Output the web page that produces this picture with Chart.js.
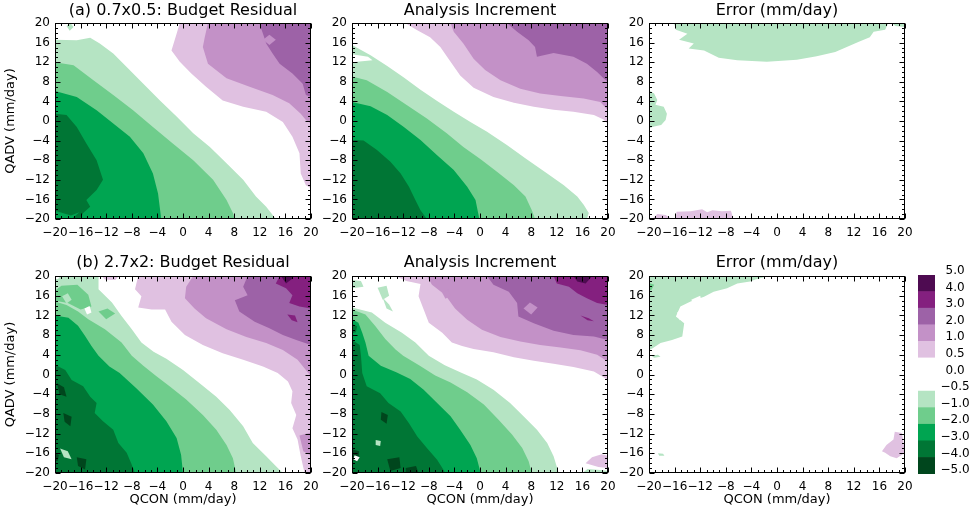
<!DOCTYPE html>
<html lang="en">
<head>
<meta charset="UTF-8">
<title>Budget residual vs analysis increment</title>
<script src="https://cdn.jsdelivr.net/npm/chart.js"></script>
<style>
  html, body { margin: 0; padding: 0; background: #fff; }
  #wrap { position: relative; width: 970px; height: 514px; overflow: hidden; }
  #wrap canvas { position: absolute; }
</style>
</head>
<body>
<div id="wrap"></div>
<script>
// ---- contour regions, [QCON, QADV] vertices ----
// (a) 0.7x0.5 budget residual
const aRes_m05 = [[-20,16.6],[-16.6,16.5],[-14.5,17.0],[-13.0,15.8],[-10.9,13.8],[-8.8,11.0],[-6.2,7.6],[-3.6,4.2],[-1.0,0.9],[1.6,-2.5],[4.2,-5.3],[6.8,-8.6],[9.4,-12.0],[11.4,-15.4],[13.0,-17.5],[14.5,-20],[-20,-20]];
const aRes_m05s = [[-18.2,19.4],[-17.6,20],[-17.1,19.2],[-17.7,18.4]];
const aRes_m1 = [[-20,12.0],[-17.1,11.4],[-14.0,8.3],[-10.9,5.3],[-7.8,2.2],[-4.7,-1.2],[-1.6,-4.6],[1.6,-8.0],[4.7,-12.0],[6.8,-16.1],[7.8,-18.8],[8.1,-20],[-20,-20]];
const aRes_m2 = [[-20,6.1],[-16.6,4.9],[-13.5,2.2],[-10.9,-0.5],[-8.3,-3.2],[-6.2,-6.6],[-4.7,-10.7],[-3.9,-14.8],[-3.4,-20],[-20,-20]];
const aRes_m3 = [[-20,1.5],[-18.2,1.2],[-16.6,-1.2],[-15.1,-4.6],[-13.5,-8.0],[-12.5,-12.0],[-13.5,-14.1],[-15.1,-16.1],[-14.5,-17.5],[-15.6,-18.8],[-16.1,-20],[-20,-20]];
const aRes_m2s = [[-20,-18.3],[-17.5,-19.3],[-16.2,-18.6],[-17.3,-19.9],[-20,-19.8]];
const aRes_p05 = [[-0.5,20],[-1.0,17.8],[-1.8,14.4],[-0.5,12.1],[1.3,9.7],[3.6,7.0],[6.2,4.2],[9.4,2.9],[13.0,1.9],[15.6,-0.2],[17.1,-3.2],[18.2,-6.6],[18.4,-10.7],[19.2,-13.1],[20,-13.7],[20,20]];
const aRes_p1 = [[3.9,20],[3.4,17.1],[3.1,15.1],[3.9,11.7],[6.8,8.7],[10.4,7.0],[14.0,5.3],[16.6,3.6],[18.4,1.5],[19.2,0.2],[20,-0.5],[20,20]];
const aRes_p2 = [[11.9,20],[12.5,17.8],[13.0,15.8],[14.0,13.8],[15.1,11.7],[17.1,9.7],[18.7,7.6],[19.2,5.3],[20,4.9],[20,20]];
const aRes_p1s = [[12.5,16.6],[13.5,17.6],[14.5,16.6],[13.5,15.5]];

// (a) analysis increment
const aInc_m05 = [[-20,15.5],[-17.1,13.4],[-14.5,11.2],[-11.9,8.9],[-9.3,6.4],[-6.7,4.1],[-4.1,1.9],[-1.5,-0.2],[1.1,-2.2],[4.2,-4.9],[7.3,-7.8],[10.5,-10.7],[13.1,-13.1],[15.2,-15.4],[16.2,-17.1],[17.0,-18.8],[16.7,-20],[-20,-20]];
const aInc_w = [[-20,13.6],[-17.5,13.1],[-16.8,12.4],[-20,12.0]];
const aInc_m1 = [[-20,9.1],[-17.7,8.3],[-14.5,5.9],[-11.4,3.2],[-8.3,0.5],[-5.2,-2.5],[-2.6,-5.3],[0.1,-7.8],[2.7,-10.4],[5.3,-13.1],[7.1,-15.4],[8.1,-18.2],[8.6,-20],[-20,-20]];
const aInc_m2 = [[-20,3.9],[-17.1,3.0],[-14.5,1.2],[-11.9,-1.2],[-9.3,-3.9],[-6.7,-7.0],[-4.1,-10.0],[-2.0,-13.4],[-0.7,-16.1],[-0.1,-20],[-20,-20]];
const aInc_m3 = [[-20,-3.9],[-18.2,-4.0],[-16.1,-5.9],[-14.0,-8.3],[-12.4,-10.7],[-11.1,-13.4],[-10.1,-16.1],[-9.3,-18.2],[-8.3,-20],[-20,-20]];
const aInc_p05 = [[-11.7,20],[-9.8,18.5],[-7.8,17.1],[-6.2,15.1],[-4.6,12.1],[-3.1,9.3],[-1.0,6.8],[2.1,4.9],[5.3,3.7],[8.4,2.9],[11.5,2.3],[14.6,1.9],[17.8,1.2],[19.3,0.3],[20,-0.6],[20,20]];
const aInc_p1 = [[-4.6,20],[-4.1,18.2],[-2.6,15.8],[-1.0,12.7],[0.8,10.4],[3.2,8.3],[6.3,6.6],[9.4,5.6],[12.6,5.1],[16.2,4.6],[18.8,3.9],[20,2.2],[20,20]];
const aInc_p2 = [[4.2,20],[5.8,18.2],[7.6,16.5],[8.6,15.1],[8.9,13.1],[11.5,13.9],[14.6,13.1],[16.7,11.7],[18.3,10.0],[19.3,8.7],[20,8.0],[20,20]];

// (a) error
const aErr_m05a = [[-16.1,20],[-15.8,18.6],[-14.0,17.8],[-15.3,16.6],[-13.0,15.8],[-13.8,14.8],[-11.4,14.4],[-9.1,12.9],[-6.2,12.4],[-1.6,12.1],[3.1,12.5],[6.2,13.2],[9.1,14.1],[10.9,15.1],[12.7,16.1],[14.5,17.1],[15.1,18.2],[16.9,18.6],[17.4,20]];
const aErr_m05b = [[-20,6.3],[-19.2,5.6],[-18.7,4.3],[-19.0,3.3],[-17.7,2.9],[-17.2,1.5],[-17.4,0.2],[-18.1,-0.8],[-19.2,-1.1],[-20,-1.5]];
const aErr_m05c = [[17.9,20],[18.5,19.4],[20,19.2],[20,20]];
const aErr_p05a = [[-19.5,-20],[-18.7,-19.0],[-17.4,-19.2],[-16.4,-20]];
const aErr_p05b = [[-15.8,-20],[-15.7,-18.5],[-13.5,-18.4],[-11.7,-18.0],[-10.9,-18.6],[-10.1,-18.2],[-8.6,-18.4],[-7.2,-18.3],[-6.8,-20]];

// (b) 2.7x2 budget residual
const bRes_m05 = [[-20,20],[-13.2,20],[-13.2,17.3],[-11.1,14.6],[-9.6,11.9],[-8.0,9.2],[-6.5,6.5],[-4.6,4.6],[-2.6,3.2],[0.0,0.9],[2.6,-1.8],[5.2,-4.5],[7.3,-7.2],[9.4,-10.5],[10.9,-13.9],[13.0,-16.6],[14.5,-18.6],[15.6,-20],[-20,-20]];
const bRes_w1 = [[-20,20],[-19.2,20],[-19.5,19.4],[-20,19.4]];
const bRes_m1a = [[-19.0,18.0],[-16.5,18.2],[-14.8,16.2],[-14.3,13.8],[-16.0,13.2],[-18.0,14.5],[-20,15.0],[-20,17.0]];
const bRes_m05d = [[-18.9,15.9],[-18.0,16.5],[-17.4,15.2],[-18.2,14.4]];
const bRes_w2 = [[-15.4,13.4],[-14.6,13.9],[-14.3,12.6],[-15.0,12.2]];
const bRes_m1b = [[-13.2,12.8],[-11.8,13.4],[-10.6,12.4],[-12.0,11.2]];
const bRes_m1 = [[-20,14.8],[-18.2,14.1],[-16.4,12.8],[-14.8,11.2],[-12.2,9.2],[-9.6,6.5],[-8.0,3.8],[-6.2,1.8],[-4.2,-0.3],[-2.1,-2.4],[0.5,-5.1],[3.1,-8.2],[5.2,-11.2],[6.8,-14.3],[7.8,-17.0],[8.3,-20],[-20,-20]];
const bRes_m2 = [[-20,12.0],[-17.9,11.5],[-16.4,9.9],[-15.3,7.8],[-14.3,5.8],[-13.2,3.8],[-11.5,1.6],[-9.9,0.3],[-7.3,-2.8],[-4.7,-6.1],[-2.6,-9.5],[-1.0,-12.9],[-0.3,-16.3],[0.0,-20],[-20,-20]];
const bRes_m3 = [[-20,2.0],[-18.4,0.9],[-17.4,-1.1],[-15.6,-2.4],[-14.5,-4.5],[-13.5,-5.8],[-13.8,-7.8],[-12.5,-9.5],[-10.9,-11.2],[-10.1,-13.9],[-8.8,-15.9],[-8.1,-18.0],[-7.5,-20],[-20,-20]];
const bRes_m4a = [[-19.7,-1.8],[-18.6,-2.6],[-18.2,-4.5],[-19.3,-4.0]];
const bRes_m4b = [[-18.7,-7.8],[-17.4,-8.6],[-17.6,-10.5],[-18.5,-9.6]];
const bRes_m4c = [[-16.6,-16.8],[-15.1,-17.2],[-15.3,-19.3],[-16.4,-18.6]];
const bRes_m4d = [[-20,-15.8],[-19.4,-16.4],[-19.6,-17.6],[-20,-17.4]];
const bRes_m05s = [[-19.2,-15.0],[-18.0,-15.6],[-17.4,-17.2],[-18.6,-16.8]];
const bRes_p05 = [[-7.0,20],[-7.5,17.3],[-6.5,15.9],[-7.0,13.6],[-4.9,13.2],[-2.8,13.2],[-1.8,10.7],[0.3,8.0],[3.1,6.0],[6.2,4.3],[9.4,3.0],[12.5,1.6],[14.8,0.3],[16.4,-1.4],[17.1,-3.4],[16.9,-5.8],[17.7,-8.2],[17.1,-10.9],[17.9,-13.2],[18.4,-16.6],[19.0,-20],[20,-20],[20,20]];
const bRes_p05t = [[-12.7,20],[-10.0,20],[-10.6,19.2],[-12.2,19.3]];
const bRes_p1s = [[18.2,-12.4],[20,-11.8],[20,-16.5],[18.8,-15.6]];
const bRes_p1 = [[1.6,20],[0.5,17.8],[0.3,15.5],[1.8,13.4],[3.6,11.4],[6.8,9.2],[9.9,7.6],[13.0,6.4],[15.6,5.0],[17.9,3.0],[19.2,0.9],[20,-0.4],[20,20]];
const bRes_p2 = [[10.1,20],[9.4,17.8],[10.1,16.1],[8.1,15.1],[8.8,12.8],[11.2,10.7],[13.5,9.4],[15.6,8.0],[17.7,7.0],[20,6.0],[20,20]];
const bRes_p3 = [[15.1,20],[14.5,18.5],[16.1,17.5],[17.1,16.1],[16.6,14.5],[18.2,13.8],[20,13.4],[20,20]];
const bRes_p3b = [[16.3,12.2],[17.5,12.0],[17.9,10.6],[17.0,11.0]];
const bRes_p4 = [[15.3,20],[16.1,18.5],[17.1,19.5],[16.9,20]];

// (b) analysis increment
const bInc_m05 = [[-20,13.6],[-16.9,12.6],[-14.8,10.5],[-12.2,8.5],[-10.1,6.5],[-8.0,3.8],[-5.5,1.9],[-3.0,0.4],[-0.5,-1.0],[2.1,-3.1],[4.7,-5.8],[6.8,-8.5],[8.9,-11.2],[10.5,-13.9],[11.5,-16.6],[12.3,-20],[-20,-20]];
const bInc_m05t = [[-20,19.2],[-18.6,19.0],[-18.2,17.8],[-20,17.5]];
const bInc_m05u = [[-16.0,17.6],[-14.6,18.0],[-14.2,16.0],[-15.2,15.2]];
const bInc_m05v = [[-15.2,15.6],[-14.2,14.2],[-13.6,12.8],[-14.6,13.4]];
const bInc_m1 = [[-20,13.2],[-17.9,12.2],[-16.4,9.9],[-14.8,7.2],[-13.2,5.1],[-12.0,3.8],[-9.4,1.8],[-7.0,-0.2],[-4.6,-1.6],[-2.0,-3.6],[0.6,-6.1],[2.9,-9.2],[5.0,-12.2],[6.6,-14.9],[7.6,-17.6],[8.1,-20],[-20,-20]];
const bInc_m2 = [[-20,11.2],[-19.0,10.5],[-18.4,8.5],[-17.9,6.5],[-17.4,3.8],[-15.5,1.8],[-13.0,0.4],[-10.9,-0.9],[-8.8,-3.1],[-6.7,-5.8],[-4.6,-8.5],[-3.1,-11.2],[-1.5,-14.3],[-0.5,-17.0],[0.1,-20],[-20,-20]];
const bInc_m3 = [[-20,7.0],[-18.8,6.0],[-18.6,3.8],[-18.4,0.3],[-17.7,-2.4],[-15.6,-3.8],[-14.3,-5.8],[-12.4,-7.5],[-11.1,-9.9],[-9.8,-12.6],[-8.3,-14.9],[-6.7,-17.3],[-5.4,-20],[-20,-20]];
const bInc_m3s = [[-20,10.3],[-19.2,9.8],[-19.4,8.6],[-20,8.4]];
const bInc_m4a = [[-20,-15.2],[-18.9,-15.6],[-19.0,-17.3],[-20,-17.5]];
const bInc_m4b = [[-15.4,-7.6],[-14.4,-8.2],[-14.6,-10.0],[-15.5,-9.2]];
const bInc_m4c = [[-14.5,-17.2],[-12.6,-16.8],[-12.4,-19.0],[-14.0,-19.6]];
const bInc_m4d = [[-11.6,-19.0],[-10.0,-18.6],[-9.6,-20],[-11.6,-20]];
const bInc_w2 = [[-19.6,-16.4],[-18.8,-16.8],[-19.2,-17.6],[-19.8,-17.2]];
const bInc_m05s = [[-16.3,-13.3],[-15.5,-13.5],[-15.6,-14.5],[-16.3,-14.3]];
const bInc_m05b = [[16.0,-20],[16.8,-19.2],[18.8,-19.4],[20,-19.6],[20,-20]];
const bInc_p05 = [[-13.2,20],[-11.5,19.0],[-9.3,18.4],[-9.6,15.9],[-8.8,13.2],[-8.0,10.5],[-5.9,8.5],[-4.4,6.5],[-2.8,5.8],[-1.0,5.2],[2.1,4.5],[5.3,3.5],[8.4,2.8],[11.5,2.2],[14.6,1.5],[17.8,0.6],[19.1,-0.4],[20,-1.1],[20,20]];
const bInc_p05b = [[16.5,-18.0],[17.5,-16.8],[19.0,-16.2],[20,-16.5],[20,-19.0],[18.5,-18.8]];
const bInc_p1 = [[-8.3,20],[-7.5,18.2],[-5.4,16.1],[-3.9,13.4],[-2.0,11.1],[0.3,9.1],[3.2,7.6],[6.3,6.7],[9.4,6.0],[12.6,5.5],[15.7,4.9],[18.3,4.0],[20,2.6],[20,20]];
const bInc_p1t = [[-5.9,16.6],[-5.0,17.2],[-4.6,16.0],[-5.4,15.4]];
const bInc_p2 = [[1.1,20],[2.1,18.2],[4.5,16.8],[5.8,14.5],[6.0,11.8],[8.4,10.4],[11.5,8.9],[14.6,8.0],[17.8,7.7],[20,7.0],[20,20]];
const bInc_p1s = [[6.8,13.4],[7.8,14.6],[9.0,13.6],[8.0,12.2]];
const bInc_p3 = [[11.5,20],[12.0,18.5],[13.9,17.8],[15.2,16.5],[16.7,15.5],[18.3,14.5],[20,14.1],[20,20]];
const bInc_p3b = [[15.7,12.0],[17.0,11.4],[17.8,10.8],[16.8,11.0]];
const bInc_p4 = [[14.6,20],[15.2,18.9],[16.5,18.5],[17.2,19.5],[17.5,20]];

// (b) error
const bErr_m05 = [[-20,20],[-1.3,20],[-3.4,19.3],[-4.2,18.9],[-6.2,18.5],[-7.8,17.5],[-9.9,16.8],[-11.4,15.8],[-13.5,14.8],[-15.1,13.8],[-15.8,11.8],[-14.5,10.4],[-14.8,7.7],[-16.4,7.0],[-18.2,6.4],[-19.5,5.3],[-20,5.0]];
const bErr_w1 = [[-13.4,15.2],[-12.0,16.0],[-11.8,14.8],[-13.0,14.2]];
const bErr_w2 = [[-15.6,12.6],[-14.4,13.4],[-14.2,11.6],[-15.2,11.0]];
const bErr_m1s = [[-20,18.6],[-19.2,18.2],[-19.6,17.2],[-20,17.0]];
const bErr_m05s1 = [[-19.6,3.8],[-18.6,4.0],[-18.2,3.6],[-19.2,3.4]];
const bErr_m05s2 = [[-18.6,-16.0],[-17.8,-16.1],[-17.6,-16.5],[-18.4,-16.5]];
const bErr_p05 = [[16.4,-15.6],[17.1,-14.3],[18.2,-13.2],[18.4,-11.6],[19.5,-11.9],[19.7,-13.2],[20,-15.9],[18.7,-17.0],[17.7,-16.6],[16.9,-15.9]];

// colour bar (bottom to top)
const cbLabels = ['\u22125.0','\u22124.0','\u22123.0','\u22122.0','\u22121.0','\u22120.5','0.0','0.5','1.0','2.0','3.0','4.0','5.0'];
const cbLevels = ['m4','m3','m2','m1','m05','w','w','p05','p1','p2','p3','p4'];

const levelColors = {
  m4: '#00461d', m3: '#007635', m2: '#00a551', m1: '#6fcd8c', m05: '#b5e4c3',
  w: '#ffffff',
  p05: '#e0c1e1', p1: '#c391c7', p2: '#9d62a7', p3: '#84207f', p4: '#4e0b51'
};

// layers are listed bottom (drawn first) to top
const panels = [
  { title: '(a) 0.7x0.5: Budget Residual', col: 0, row: 0, layers: [
      [aRes_m05,'m05'],[aRes_m05s,'m05'],[aRes_m1,'m1'],[aRes_m2,'m2'],[aRes_m3,'m3'],[aRes_m2s,'m2'],
      [aRes_p05,'p05'],[aRes_p1,'p1'],[aRes_p2,'p2'],[aRes_p1s,'p1']] },
  { title: 'Analysis Increment', col: 1, row: 0, layers: [
      [aInc_m05,'m05'],[aInc_w,'w'],[aInc_m1,'m1'],[aInc_m2,'m2'],[aInc_m3,'m3'],
      [aInc_p05,'p05'],[aInc_p1,'p1'],[aInc_p2,'p2']] },
  { title: 'Error (mm/day)', col: 2, row: 0, layers: [
      [aErr_m05a,'m05'],[aErr_m05b,'m05'],[aErr_m05c,'m05'],[aErr_p05a,'p05'],[aErr_p05b,'p05']] },
  { title: '(b) 2.7x2: Budget Residual', col: 0, row: 1, layers: [
      [bRes_m05,'m05'],[bRes_w1,'w'],[bRes_m1a,'m1'],[bRes_m05d,'m05'],[bRes_w2,'w'],[bRes_m1b,'m1'],[bRes_m1,'m1'],
      [bRes_m2,'m2'],[bRes_m3,'m3'],[bRes_m4a,'m4'],[bRes_m4b,'m4'],[bRes_m4c,'m4'],[bRes_m4d,'m4'],[bRes_m05s,'m05'],
      [bRes_p05,'p05'],[bRes_p05t,'p05'],[bRes_p1s,'p1'],[bRes_p1,'p1'],[bRes_p2,'p2'],[bRes_p3,'p3'],[bRes_p3b,'p3'],[bRes_p4,'p4']] },
  { title: 'Analysis Increment', col: 1, row: 1, layers: [
      [bInc_m05,'m05'],[bInc_m05t,'m05'],[bInc_m05u,'m05'],[bInc_m05v,'m05'],[bInc_m1,'m1'],[bInc_m2,'m2'],[bInc_m3,'m3'],[bInc_m3s,'m3'],
      [bInc_m4a,'m4'],[bInc_m4b,'m4'],[bInc_m4c,'m4'],[bInc_m4d,'m4'],[bInc_w2,'w'],[bInc_m05s,'m05'],[bInc_m05b,'m05'],
      [bInc_p05,'p05'],[bInc_p05b,'p05'],[bInc_p1,'p1'],[bInc_p1t,'p1'],[bInc_p2,'p2'],[bInc_p1s,'p1'],[bInc_p3,'p3'],[bInc_p3b,'p3'],[bInc_p4,'p4']] },
  { title: 'Error (mm/day)', col: 2, row: 1, layers: [
      [bErr_m05,'m05'],[bErr_w1,'w'],[bErr_w2,'w'],[bErr_m1s,'m1'],[bErr_m05s1,'m05'],[bErr_m05s2,'m05'],[bErr_p05,'p05']] }
];

// ---- layout (pixels) ----
const colLeft = [55, 352, 649];
const rowTop = [23, 276];
const rowH = [196, 197];
const plotW = 256;
const sideM = 55;      // space either side of each plot
const titleH = 23;
const bottomH = [30, 41];
const titlePad = [{top: 1.4, bottom: 2.4}, {top: 0, bottom: 3.8}];

Chart.defaults.font.family = "'DejaVu Sans', sans-serif";
Chart.defaults.color = '#000';

const fmt = v => (v < 0 ? '\u2212' + Math.abs(v) : String(v));

// box with inward major/minor ticks on all four sides
const framePlugin = {
  id: 'frame',
  afterDatasetsDraw(chart) {
    const { ctx, chartArea: { left, right, top, bottom }, scales: { x, y } } = chart;
    const L = Math.round(left) + 0.5, R = Math.round(right) - 0.5;
    const T = Math.round(top) + 0.5, B = Math.round(bottom) - 0.5;
    ctx.save();
    ctx.strokeStyle = '#000';
    ctx.lineWidth = 1;
    ctx.beginPath();
    for (let v = -20; v <= 20; v++) {
      const len = v % 4 === 0 ? 5 : 2.5;
      const px = Math.round(x.getPixelForValue(v)) + 0.5;
      ctx.moveTo(px, B); ctx.lineTo(px, B - len);
      ctx.moveTo(px, T); ctx.lineTo(px, T + len);
      const py = Math.round(y.getPixelForValue(v)) + 0.5;
      ctx.moveTo(L, py); ctx.lineTo(L + len, py);
      ctx.moveTo(R, py); ctx.lineTo(R - len, py);
    }
    ctx.stroke();
    ctx.strokeRect(L, T, R - L, B - T);
    ctx.restore();
  }
};

const wrap = document.getElementById('wrap');

function addCanvas(left, top, w, h) {
  const cv = document.createElement('canvas');
  cv.width = w; cv.height = h;
  cv.style.left = left + 'px';
  cv.style.top = top + 'px';
  cv.style.width = w + 'px';
  cv.style.height = h + 'px';
  wrap.appendChild(cv);
  return cv;
}

function makePanel(p) {
  const w = plotW + 2 * sideM;
  const h = titleH + rowH[p.row] + bottomH[p.row];
  const cv = addCanvas(colLeft[p.col] - sideM, rowTop[p.row] - titleH, w, h);

  // Chart.js paints dataset 0 last, so reverse to keep the listed stacking
  const datasets = p.layers.map(([pts, lev]) => ({
    data: pts.map(([x, y]) => ({ x, y })),
    showLine: true,
    fill: 'shape',
    backgroundColor: levelColors[lev],
    borderWidth: 0,
    pointRadius: 0,
    tension: 0
  })).reverse();

  new Chart(cv, {
    type: 'scatter',
    data: { datasets },
    options: {
      responsive: false,
      animation: false,
      events: [],
      layout: { padding: 0 },
      plugins: {
        legend: { display: false },
        tooltip: { enabled: false },
        title: {
          display: true,
          text: p.title,
          font: { size: 16, weight: 'normal' },
          color: '#000',
          padding: titlePad[p.row]
        }
      },
      scales: {
        x: {
          type: 'linear', position: 'bottom', min: -20, max: 20,
          grid: { display: false, drawTicks: false },
          border: { display: false },
          ticks: { stepSize: 4, autoSkip: false, maxRotation: 0, padding: 7, font: { size: 12 }, callback: fmt },
          title: {
            display: p.row === 1,
            text: 'QCON (mm/day)',
            font: { size: 13 },
            padding: { top: 0, bottom: 6.2 }
          },
          afterFit: s => { s.height = bottomH[p.row]; }
        },
        y: {
          type: 'linear', position: 'left', min: -20, max: 20,
          grid: { display: false, drawTicks: false },
          border: { display: false },
          ticks: { stepSize: 4, autoSkip: false, padding: 5, font: { size: 12 }, callback: fmt },
          title: {
            display: p.col === 0,
            text: 'QADV (mm/day)',
            font: { size: 13 },
            padding: { top: 2.7, bottom: 0 }
          },
          afterFit: s => { s.width = sideM; }
        },
        // empty right-hand strip so the title centres over the plot
        yPad: {
          type: 'linear', position: 'right', min: -20, max: 20,
          grid: { display: false, drawTicks: false },
          border: { display: false },
          ticks: { display: false },
          afterFit: s => { s.width = sideM; }
        }
      }
    },
    plugins: [framePlugin]
  });
}

panels.forEach(makePanel);

// colour bar
const cbCanvas = addCanvas(900, 260, 70, 230);
new Chart(cbCanvas, {
  type: 'bar',
  data: {
    labels: [''],
    datasets: cbLevels.map((lev, i) => ({
      data: [[i, i + 1]],
      backgroundColor: levelColors[lev],
      borderWidth: 0,
      barPercentage: 1,
      categoryPercentage: 1,
      grouped: false
    }))
  },
  options: {
    responsive: false,
    animation: false,
    events: [],
    layout: { padding: { left: 18, right: 0, top: 15, bottom: 16 } },
    plugins: { legend: { display: false }, tooltip: { enabled: false } },
    scales: {
      x: { display: false },
      y: {
        position: 'right', min: 0, max: 12,
        grid: { display: false, drawTicks: false },
        border: { display: false },
        ticks: {
          stepSize: 1, autoSkip: false, padding: 5.5, crossAlign: 'center', labelOffset: -4,
          font: { size: 12 }, callback: v => cbLabels[v]
        },
        afterFit: s => { s.width = 35; }
      }
    }
  }
});
</script>
</body>
</html>
